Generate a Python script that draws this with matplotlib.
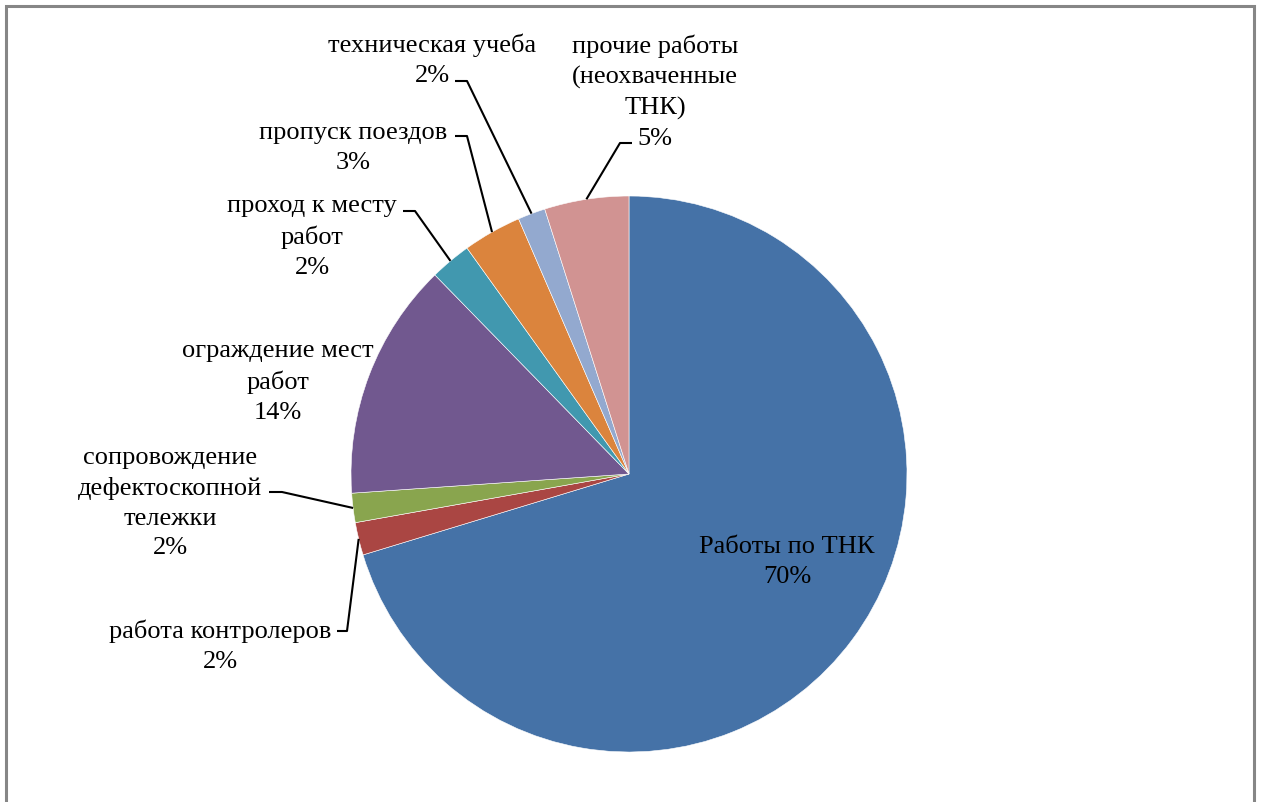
import matplotlib.pyplot as plt
import numpy as np
from matplotlib.patches import Rectangle

plt.rcParams['font.family'] = ['Liberation Serif', 'DejaVu Serif']

labels = ['Работы по ТНК', 'работа контролеров',
          'сопровождение\nдефектоскопной\nтележки', 'ограждение мест\nработ',
          'проход к месту\nработ', 'пропуск поездов', 'техническая учеба',
          'прочие работы\n(неохваченные\nТНК)']
shares = [70.3, 1.9, 1.7, 13.8, 2.4, 3.4, 1.6, 4.9]
colors = ['#4572A7', '#AA4643', '#89A54E', '#71588F',
          '#4198AF', '#DB843D', '#93A9CF', '#D19392']

# label block centres and leader elbows, in pixels from the top-left corner
label_pos = [(787, 562), (220, 646), (170, 503), (278, 382),
             (312, 237), (353, 148), (432, 60), (655, 92)]
leaders = [None, ((337, 632), (347, 632)), ((269, 493), (282, 493)), None,
           ((403, 212), (415, 212)), ((455, 137), (467, 137)),
           ((455, 82), (467, 82)), ((632, 144), (620, 144))]

W, H = 1262, 803
cx, cy, R = 629, H - 475, 278

fig = plt.figure(figsize=(W / 100, H / 100), dpi=100)
ax = fig.add_axes([0, 0, 1, 1])
ax.pie(shares, colors=colors, startangle=90, counterclock=False,
       center=(cx, cy), radius=R,
       wedgeprops=dict(edgecolor='white', linewidth=0.4))
ax.set_xlim(0, W)
ax.set_ylim(0, H)
ax.set_aspect('equal')
ax.axis('off')

# chart frame
ax.add_patch(Rectangle((6, -10), 1248, H - 7 + 10, fill=False,
                       edgecolor='#868686', linewidth=2.2, zorder=5))

cum = np.cumsum(shares)
for i, (lab, v) in enumerate(zip(labels, shares)):
    tx, ty = label_pos[i]
    ax.text(tx, H - ty, '%s\n%.0f%%' % (lab, v), ha='center', va='center',
            fontsize=19, linespacing=1.45, color='black')
    if leaders[i] is not None:
        mid = np.radians(90 - 3.6 * (cum[i] - v / 2))
        ex, ey = cx + R * np.cos(mid), cy + R * np.sin(mid)
        (x0, y0), (x1, y1) = leaders[i]
        ax.plot([x0, x1, ex], [H - y0, H - y1, ey], color='black',
                linewidth=1.5, solid_capstyle='butt')

plt.savefig('out.png', dpi=100)
